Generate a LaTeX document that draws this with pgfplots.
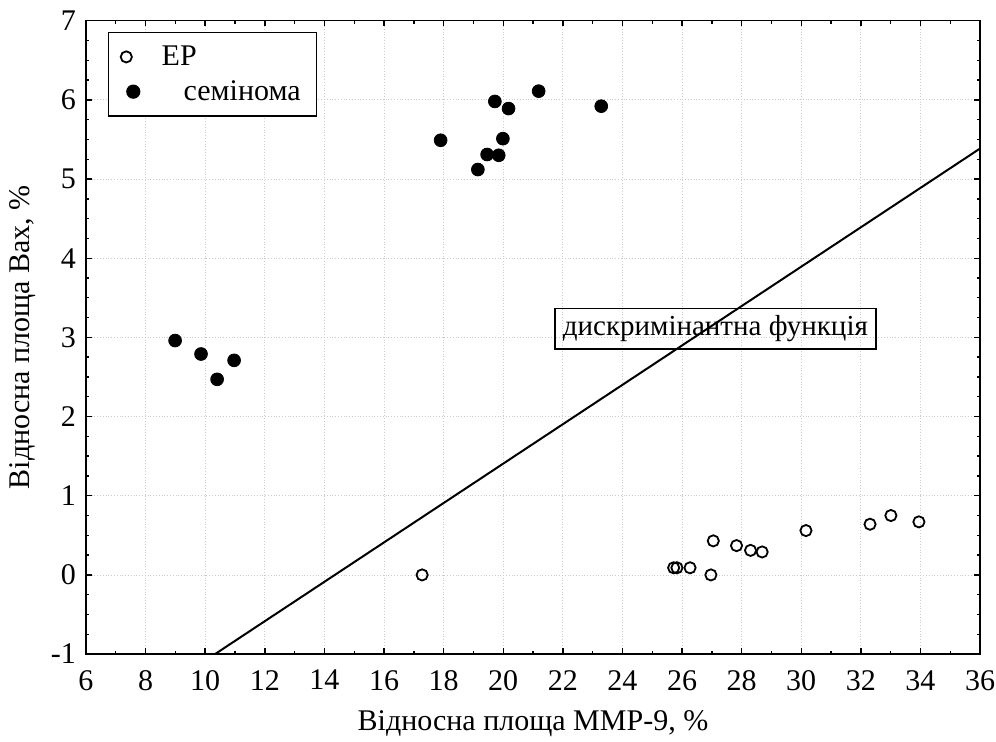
\documentclass[border=0pt]{standalone}
\usepackage{pgfplots}
\pgfplotsset{compat=1.18}
\usepackage{fontspec}
\setmainfont{Liberation Serif}
\begin{document}
\begin{tikzpicture}
\begin{axis}[
  scale only axis,
  width=447pt, height=316.7pt,
  xmin=6, xmax=36, ymin=-1, ymax=7,
  xtick={6,8,...,36}, ytick={-1,0,...,7},
  minor x tick num=1, minor y tick num=3,
  tick align=inside, tick pos=both,
  major tick length=2.8pt, minor tick length=1.7pt,
  tick style={black, line width=0.7pt},
  axis line style={line width=0.8pt},
  grid=major,
  major grid style={densely dotted, gray!40, line width=0.4pt},
  /pgf/number format/assume math mode=true,
  ticklabel style={font=\fontsize{15}{17}\selectfont},
  xticklabel style={yshift=-4.5pt},
  yticklabel style={xshift=-1.5pt},
  xlabel={Відносна площа ММР-9, \%},
  ylabel={Відносна площа Bax, \%},
  label style={font=\fontsize{15}{17}\selectfont},
  xlabel style={at={(axis description cs:0.5,-0.11)}, anchor=center},
  ylabel style={at={(axis description cs:-0.071,0.5)}, anchor=center},
  legend style={at={(axis description cs:0,1)}, anchor=north west, xshift=11pt, yshift=-5.6pt,
    draw=black, line width=0.7pt, font=\fontsize{15}{17}\selectfont,
    inner xsep=6pt, inner ysep=4.5pt, row sep=2pt},
  legend cell align=left,
]
\coordinate (SW) at (rel axis cs:0,0);
\coordinate (NE) at (rel axis cs:1,1);
\addplot[only marks, mark=o, mark size=2.8pt, mark options={line width=0.9pt, black},
  legend image post style={xshift=4pt}] coordinates {
(17.28,0.00) (25.72,0.09) (25.83,0.09) (26.27,0.09) (26.97,0.00) (27.05,0.43)
(27.83,0.37) (28.30,0.31) (28.69,0.29) (30.16,0.56) (32.31,0.64) (33.01,0.75) (33.95,0.67)
};
\addlegendentry{\hspace{9pt}ЕР}
\addplot[only marks, mark=*, mark size=3.2pt, mark options={black, fill=black},
  legend image post style={xshift=7.5pt}] coordinates {
(8.99,2.96) (9.86,2.79) (10.40,2.47) (10.97,2.71) (17.90,5.49) (19.15,5.12) (19.46,5.31)
(19.72,5.98) (19.85,5.30) (19.99,5.51) (20.18,5.89) (21.19,6.11) (23.29,5.92)
};
\addlegendentry{\hspace{20pt}семінома}
\addplot[black, line width=1pt, forget plot] coordinates {(10.33,-1) (36,5.385)};
\node[draw=black, line width=0.7pt, inner xsep=4pt, inner ysep=3.5pt, font=\fontsize{14.5}{17}\selectfont] at (axis cs:27.12,3.11) {дискримінантна функція};
\end{axis}
\pgfresetboundingbox
\path ([shift={(-43pt,-43.5pt)}]SW) rectangle ([shift={(8pt,10.35pt)}]NE);
\end{tikzpicture}
\end{document}
